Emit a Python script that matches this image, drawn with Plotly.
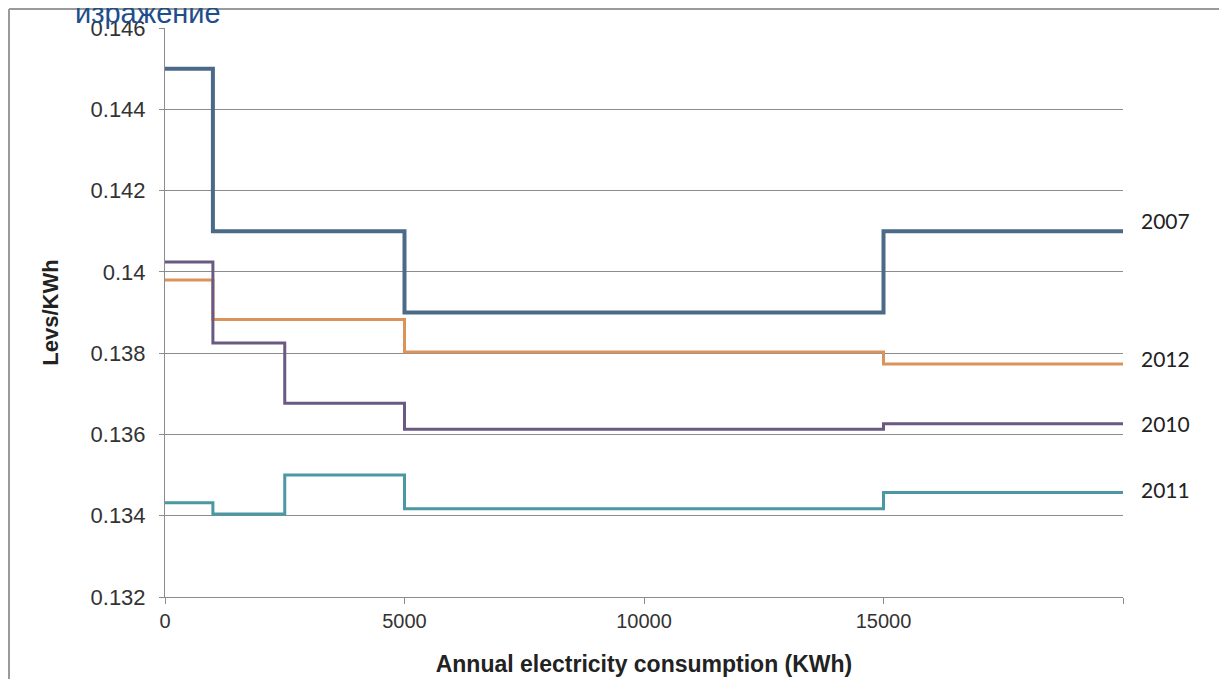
import plotly.graph_objects as go

# ---- data ----
years = ["2007", "2012", "2010", "2011"]
x_2007 = [0, 1000, 5000, 15000, 20000]
y_2007 = [0.145, 0.141, 0.139, 0.141, 0.141]
x_2012 = [0, 1000, 5000, 15000, 20000]
y_2012 = [0.1398, 0.13883, 0.13803, 0.13773, 0.13773]
x_2010 = [0, 1000, 2500, 5000, 15000, 20000]
y_2010 = [0.14024, 0.13825, 0.13677, 0.13613, 0.13626, 0.13626]
x_2011 = [0, 1000, 2500, 5000, 15000, 20000]
y_2011 = [0.13432, 0.13404, 0.1350, 0.13417, 0.13457, 0.13457]

x_tickvals = [0, 5000, 10000, 15000, 20000]
x_ticktext = ["0", "5000", "10000", "15000", ""]
y_tickvals = [0.132, 0.134, 0.136, 0.138, 0.14, 0.142, 0.144, 0.146]
y_ticktext = ["0.132", "0.134", "0.136", "0.138", "0.14", "0.142", "0.144", "0.146"]

series = [
    ("2007", x_2007, y_2007, "#4B6A88", 4),
    ("2012", x_2012, y_2012, "#DA945A", 3),
    ("2010", x_2010, y_2010, "#6A5A82", 3),
    ("2011", x_2011, y_2011, "#4A98A2", 3),
]
label_yshift = {"2007": 11, "2012": 6, "2010": 0, "2011": 3}

fig = go.Figure()
for name, xs, ys, color, w in series:
    fig.add_trace(go.Scatter(
        x=xs, y=ys, mode="lines", name=name,
        line=dict(color=color, width=w, shape="hv"),
        showlegend=False, hoverinfo="x+y",
    ))
    fig.add_annotation(
        x=1, xref="paper", y=ys[-1], yref="y",
        text=name, showarrow=False, xanchor="center", yanchor="middle",
        xshift=42, yshift=label_yshift[name],
        font=dict(family="Lato, Liberation Sans, sans-serif", size=21, color="#222222"),
    )

# page body has an 8px margin, so positions are offset by -8
OFF = 8
L, R, T, B = 165 - OFF, 104 + OFF, 28 - OFF, 82 + OFF
W, H = 1227, 679
pw, ph = W - L - R, H - T - B

def px_x(p):
    return (p - OFF - L) / pw

def px_y(p):
    return (H - B - (p - OFF)) / ph

# outer frame (top and left edges)
fig.add_shape(type="line", xref="paper", yref="paper",
              x0=px_x(9), x1=px_x(W + 20), y0=px_y(9), y1=px_y(9),
              line=dict(color="#9a9a9a", width=2))
fig.add_shape(type="line", xref="paper", yref="paper",
              x0=px_x(9), x1=px_x(9), y0=px_y(9), y1=px_y(H + 20),
              line=dict(color="#9a9a9a", width=2))

fig.add_annotation(
    x=px_x(73), xref="paper", y=px_y(13), yref="paper",
    text="изражение", showarrow=False, xanchor="left", yanchor="middle",
    font=dict(family="Liberation Sans, Arial, sans-serif", size=29, color="#1F4E8C"),
)

fig.update_layout(
    width=W, height=H,
    margin=dict(l=L, r=R, t=T, b=B, autoexpand=False),
    paper_bgcolor="white", plot_bgcolor="white",
    font=dict(family="Liberation Sans, Arial, sans-serif", color="#333333"),
    xaxis=dict(
        range=[0, 20000], tickvals=x_tickvals, ticktext=x_ticktext,
        showgrid=False, zeroline=False,
        showline=True, linecolor="#8c8c8c", linewidth=1,
        ticks="outside", ticklen=6, tickcolor="#8c8c8c",
        tickfont=dict(size=20, color="#333333"),
        title=dict(text="<b>Annual electricity consumption (KWh)</b>",
                   font=dict(size=23, color="#222222"), standoff=24),
    ),
    yaxis=dict(
        range=[0.132, 0.146], tickvals=y_tickvals, ticktext=y_ticktext,
        showgrid=True, gridcolor="#8c8c8c", gridwidth=1, zeroline=False,
        showline=True, linecolor="#8c8c8c", linewidth=1,
        ticks="outside", ticklen=5, tickcolor="#8c8c8c",
        ticklabelstandoff=9,
        tickfont=dict(size=22, color="#333333"),
        title=dict(text="<b>Levs/KWh</b>",
                   font=dict(size=22, color="#222222"), standoff=25),
    ),
)

fig.write_html("out.html")
